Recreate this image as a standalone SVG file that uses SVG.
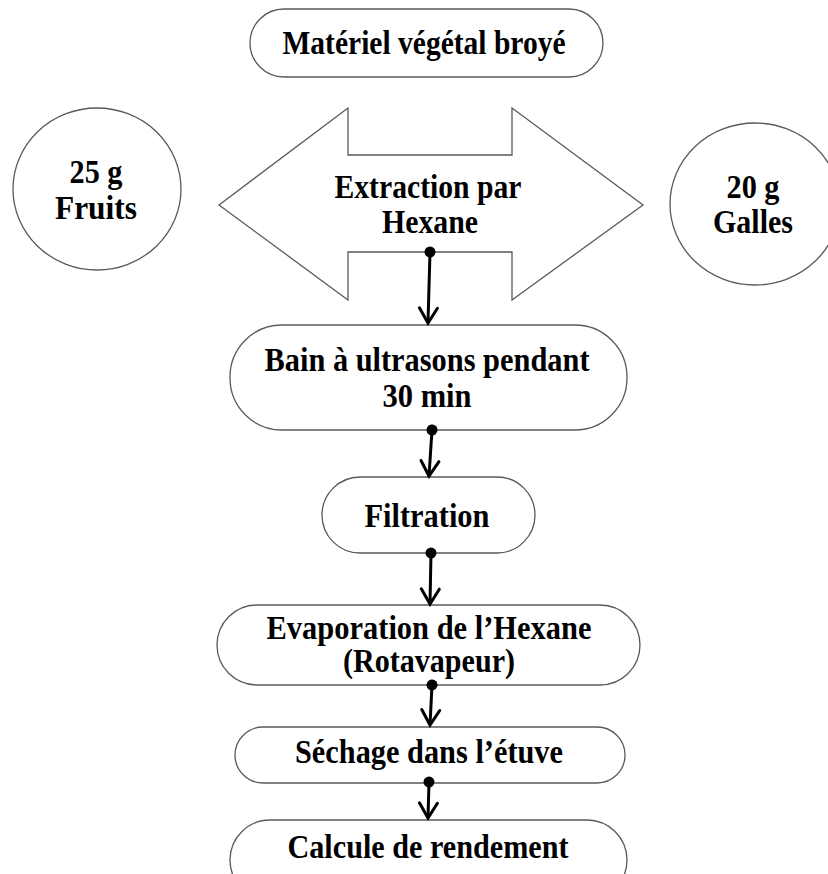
<svg xmlns="http://www.w3.org/2000/svg" width="828" height="874" viewBox="0 0 828 874">
  <style>
    .shape { fill: #ffffff; stroke: #5a5a5a; stroke-width: 1.3; }
    .label { font-family: "Liberation Serif", "Times New Roman", serif; font-weight: bold; font-size: 33px; fill: #000000; text-anchor: middle; }
    .link { stroke: #000000; stroke-width: 3; fill: none; marker-start: url(#dot); marker-end: url(#vhead); }
  </style>
  <defs>
    <marker id="dot" markerUnits="userSpaceOnUse" viewBox="-6 -6 12 12" refX="0" refY="0" markerWidth="12" markerHeight="12" orient="auto">
      <circle cx="0" cy="0" r="5.5" fill="#000000"/>
    </marker>
    <marker id="vhead" markerUnits="userSpaceOnUse" viewBox="-3 -12 21 24" refX="15" refY="0" markerWidth="21" markerHeight="24" orient="auto">
      <path d="M0,-9 L15,0 L0,9" fill="none" stroke="#000000" stroke-width="3" stroke-linecap="round" stroke-linejoin="miter"/>
    </marker>
  </defs>

  <rect width="828" height="874" fill="#ffffff"/>

  <!-- starting material -->
  <g id="node-materiel">
    <rect class="shape" x="250" y="9" width="353" height="68" rx="34" ry="34"/>
    <text class="label" x="424" y="54" textLength="283" lengthAdjust="spacingAndGlyphs">Matériel végétal broyé</text>
  </g>

  <!-- left sample -->
  <g id="node-fruits">
    <ellipse class="shape" cx="97" cy="189" rx="84" ry="81"/>
    <text class="label" x="96" y="183" textLength="53" lengthAdjust="spacingAndGlyphs">25 g</text>
    <text class="label" x="96" y="219" textLength="82" lengthAdjust="spacingAndGlyphs">Fruits</text>
  </g>

  <!-- right sample -->
  <g id="node-galles">
    <ellipse class="shape" cx="755" cy="204" rx="85" ry="81"/>
    <text class="label" x="753" y="198" textLength="53" lengthAdjust="spacingAndGlyphs">20 g</text>
    <text class="label" x="753" y="233" textLength="80" lengthAdjust="spacingAndGlyphs">Galles</text>
  </g>

  <!-- double-headed extraction arrow -->
  <g id="node-extraction">
    <polygon class="shape" points="219,205 348,108 348,155 512,155 512,108 643,205 512,300 512,252 348,252 348,300"/>
    <text class="label" x="428" y="198" textLength="187" lengthAdjust="spacingAndGlyphs">Extraction par</text>
    <text class="label" x="430" y="233" textLength="96" lengthAdjust="spacingAndGlyphs">Hexane</text>
  </g>

  <g id="node-bain">
    <rect class="shape" x="230" y="325" width="397" height="105" rx="52" ry="52"/>
    <text class="label" x="427" y="371" textLength="325" lengthAdjust="spacingAndGlyphs">Bain à ultrasons pendant</text>
    <text class="label" x="427" y="407" textLength="89" lengthAdjust="spacingAndGlyphs">30 min</text>
  </g>

  <g id="node-filtration">
    <rect class="shape" x="322" y="477" width="213" height="76" rx="38" ry="38"/>
    <text class="label" x="427" y="527" textLength="125" lengthAdjust="spacingAndGlyphs">Filtration</text>
  </g>

  <g id="node-evaporation">
    <rect class="shape" x="217" y="605" width="423" height="80" rx="40" ry="40"/>
    <text class="label" x="429" y="639" textLength="325" lengthAdjust="spacingAndGlyphs">Evaporation de l’Hexane</text>
    <text class="label" x="429" y="672" textLength="172" lengthAdjust="spacingAndGlyphs">(Rotavapeur)</text>
  </g>

  <g id="node-sechage">
    <rect class="shape" x="235" y="727" width="390" height="56" rx="28" ry="28"/>
    <text class="label" x="429" y="763" textLength="268" lengthAdjust="spacingAndGlyphs">Séchage dans l’étuve</text>
  </g>

  <g id="node-calcule">
    <rect class="shape" x="230" y="820" width="397" height="80" rx="40" ry="40"/>
    <text class="label" x="428" y="858" textLength="281" lengthAdjust="spacingAndGlyphs">Calcule de rendement</text>
  </g>

  <!-- connectors -->
  <g id="connectors">
    <line class="link" x1="430" y1="252" x2="428" y2="323"/>
    <line class="link" x1="432" y1="430" x2="429" y2="476"/>
    <line class="link" x1="431" y1="553" x2="430" y2="604"/>
    <line class="link" x1="432" y1="685" x2="430" y2="725"/>
    <line class="link" x1="429" y1="782" x2="428" y2="818"/>
  </g>
</svg>
